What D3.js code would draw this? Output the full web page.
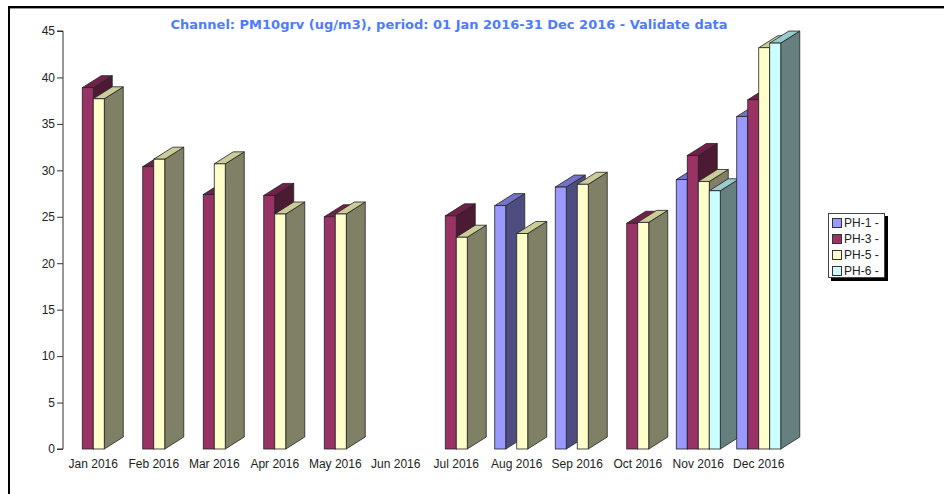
<!DOCTYPE html>
<html>
<head>
<meta charset="utf-8">
<script src="https://cdn.jsdelivr.net/npm/d3@7"></script>
<style>
  body { margin: 0; background: #fff; }
  svg { display: block; }
</style>
</head>
<body>
<div id="chart"></div>
<script>
// months on the x axis
var months = ["Jan 2016", "Feb 2016", "Mar 2016", "Apr 2016", "May 2016", "Jun 2016",
              "Jul 2016", "Aug 2016", "Sep 2016", "Oct 2016", "Nov 2016", "Dec 2016"]
var seriesNames = ["PH-1 -", "PH-3 -", "PH-5 -", "PH-6 -"]

// monthly averages, null = no data
var ph1 = [null, null, null, null, null, null, null, 26.2, 28.2, null, 29.0, 35.8]
var ph3 = [38.9, 30.4, 27.4, 27.3, 25.0, null, 25.1, null, null, 24.3, 31.6, 37.6]
var ph5 = [37.7, 31.2, 30.7, 25.3, 25.3, null, 22.8, 23.2, 28.5, 24.4, 28.8, 43.2]
var ph6 = [null, null, null, null, null, null, null, null, null, null, 27.8, 43.7]
var yTicks = [0, 5, 10, 15, 20, 25, 30, 35, 40, 45]

// front / top / side colours
var colors = [
    {front: "#9999ff", top: "#7373c8", side: "#4d4d80"},
    {front: "#993366", top: "#6e2248", side: "#4d1a33"},
    {front: "#ffffcc", top: "#cccc99", side: "#808066"},
    {front: "#ccffff", top: "#99cccc", side: "#668080"}
]

var width = 944, height = 494
var plotLeft = 63, plotRight = 789, plotTop = 31, plotBottom = 449
var barW = 11, dx = 19, dy = 12

var svg = d3.select("#chart").append("svg")
    .attr("width", width)
    .attr("height", height)

// frame
svg.append("line").attr("x1", 9).attr("x2", width).attr("y1", 7).attr("y2", 7)
    .attr("stroke", "#000").attr("stroke-width", 2)
svg.append("line").attr("x1", 9).attr("x2", width).attr("y1", 8.5).attr("y2", 8.5)
    .attr("stroke", "#999").attr("stroke-width", 1)
svg.append("line").attr("x1", 9).attr("x2", 9).attr("y1", 6).attr("y2", height)
    .attr("stroke", "#000").attr("stroke-width", 2)

svg.append("text")
    .attr("x", 449).attr("y", 29)
    .attr("text-anchor", "middle")
    .style("font-family", "'DejaVu Sans', Verdana, sans-serif")
    .style("font-weight", "bold")
    .style("font-size", "13px")
    .style("fill", "#4d7cff")
    .text("Channel: PM10grv (ug/m3), period: 01 Jan 2016-31 Dec 2016 - Validate data")

var x0 = d3.scaleBand().domain(months).range([plotLeft, plotRight])
var x1 = d3.scaleBand().domain(seriesNames).range([0, barW * seriesNames.length])
var y = d3.scaleLinear().domain([0, 45]).range([plotBottom, plotTop])

var yAxis = d3.axisLeft(y).tickValues(yTicks).tickSize(6).tickPadding(2)
var gy = svg.append("g")
    .attr("transform", "translate(" + plotLeft + ",0)")
    .call(yAxis)
gy.select(".domain").attr("stroke", "#333").attr("d", "M-6," + y(45) + "H0V" + y(0) + "H-6")
gy.selectAll(".tick line").attr("stroke", "#333")
gy.selectAll(".tick text")
    .style("font-family", "'Liberation Sans', Arial, sans-serif")
    .style("font-size", "12px")
    .style("fill", "#222")

var xAxis = d3.axisBottom(x0).tickSize(0).tickPadding(10)
var gx = svg.append("g")
    .attr("transform", "translate(0," + plotBottom + ")")
    .call(xAxis)
gx.select(".domain").remove()
gx.selectAll(".tick text")
    .style("font-family", "'Liberation Sans', Arial, sans-serif")
    .style("font-size", "12px")
    .style("fill", "#222")

var allSeries = [ph1, ph3, ph5, ph6]
var bars = []
months.forEach(function (m, i) {
    allSeries.forEach(function (s, j) {
        if (s[i] != null) bars.push({month: m, series: seriesNames[j], idx: j, value: s[i]})
    })
})

var offset = (x0.bandwidth() - barW * seriesNames.length) / 2
var gBars = svg.append("g")

bars.forEach(function (d) {
    var xl = x0(d.month) + offset + x1(d.series)
    var xr = xl + barW
    var yt = y(d.value)
    var yb = y(0)
    var c = colors[d.idx]
    var g = gBars.append("g").attr("class", "bar")
    // side
    g.append("path")
        .attr("d", "M" + xr + "," + yb + "L" + (xr + dx) + "," + (yb - dy) + "L" + (xr + dx) + "," + (yt - dy) + "L" + xr + "," + yt + "Z")
        .attr("fill", c.side).attr("stroke", "#222").attr("stroke-width", 0.8)
    // top
    g.append("path")
        .attr("d", "M" + xl + "," + yt + "L" + (xl + dx) + "," + (yt - dy) + "L" + (xr + dx) + "," + (yt - dy) + "L" + xr + "," + yt + "Z")
        .attr("fill", c.top).attr("stroke", "#222").attr("stroke-width", 0.8)
    // front
    g.append("rect")
        .attr("x", xl).attr("y", yt)
        .attr("width", barW).attr("height", yb - yt)
        .attr("fill", c.front).attr("stroke", "#222").attr("stroke-width", 0.8)
})

// legend
var lg = svg.append("g").attr("transform", "translate(828,213)")
lg.append("rect").attr("x", 3).attr("y", 3).attr("width", 57).attr("height", 65).attr("fill", "#000")
lg.append("rect").attr("x", 0.5).attr("y", 0.5).attr("width", 56).attr("height", 64)
    .attr("fill", "#fff").attr("stroke", "#444")
seriesNames.forEach(function (name, i) {
    var yy = 10 + i * 16
    lg.append("rect").attr("x", 4.5).attr("y", yy - 4.5).attr("width", 9).attr("height", 9)
        .attr("fill", colors[i].front).attr("stroke", "#333")
    lg.append("text").attr("x", 16).attr("y", yy + 4)
        .style("font-family", "'Liberation Sans', Arial, sans-serif")
        .style("font-size", "12px")
        .style("fill", "#222")
        .text(name)
})
</script>
</body>
</html>
